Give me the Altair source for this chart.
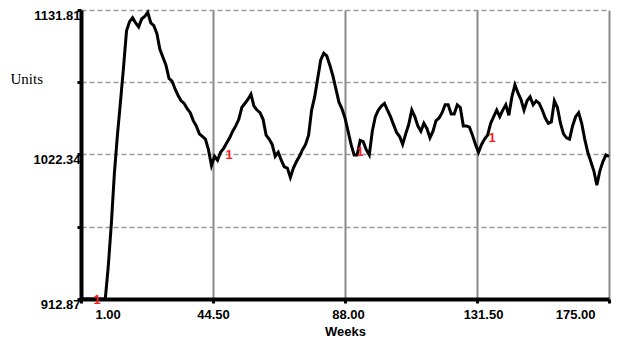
import altair as alt
import pandas as pd

weeks = list(range(1, 176))
units = [
    912.87, 912.87, 912.87, 912.87, 912.87, 912.87, 912.87, 912.87, 912.87, 938,
    970, 1008, 1037, 1062, 1088, 1116, 1123, 1126, 1122, 1119,
    1125, 1127, 1130, 1122, 1120, 1114, 1102, 1096, 1090, 1080,
    1078, 1072, 1067, 1063, 1061, 1057, 1054, 1048, 1044, 1038,
    1036, 1034, 1026, 1014, 1021, 1018, 1024, 1027, 1031, 1035,
    1040, 1044, 1049, 1058, 1061, 1064, 1068, 1059, 1056, 1054,
    1049, 1037, 1034, 1030, 1021, 1024, 1018, 1013, 1012, 1005,
    1012, 1017, 1021, 1026, 1030, 1037, 1056, 1066, 1080, 1094,
    1099, 1097, 1090, 1082, 1072, 1062, 1057, 1050, 1040, 1030,
    1022, 1022, 1033, 1032, 1026, 1022, 1040, 1051, 1056, 1059,
    1061, 1056, 1051, 1045, 1039, 1036, 1030, 1038, 1045, 1056,
    1051, 1044, 1040, 1046, 1042, 1035, 1040, 1048, 1050, 1054,
    1060, 1060, 1053, 1053, 1060, 1058, 1044, 1044, 1043, 1037,
    1030, 1024, 1030, 1034, 1037, 1046, 1051, 1056, 1051, 1056,
    1060, 1052, 1066, 1075, 1069, 1064, 1056, 1063, 1066, 1060,
    1063, 1061, 1056, 1050, 1046, 1047, 1063, 1058, 1046, 1038,
    1035, 1034, 1044, 1051, 1054, 1046, 1034, 1024, 1017, 1010,
    999, 1010, 1017, 1022, 1021,
]

marker_weeks = [6.3, 49.8, 93.0, 136.5]
marker_values = [912.0, 1021.6, 1024.0, 1035.0]
marker_labels = ["1", "1", "1", "1"]

x_ticks = [1.0, 44.5, 88.0, 131.5, 175.0]
y_ticks = [912.87, 967.605, 1022.34, 1077.075, 1131.81]

df = pd.DataFrame({"Week": weeks, "Units": units})
mk = pd.DataFrame({"Week": marker_weeks, "Units": marker_values, "label": marker_labels})

FONT = "Liberation Sans"

x_enc = alt.X(
    "Week:Q",
    scale=alt.Scale(domain=[1, 175], nice=False, zero=False),
    axis=alt.Axis(
        values=x_ticks,
        format=".2f",
        title="Weeks",
        titleFont=FONT,
        titleFontWeight="bold",
        titleFontSize=13,
        titleColor="black",
        titleY=36,
        titleBaseline="alphabetic",
        labelFont=FONT,
        labelFontWeight="bold",
        labelFontSize=13,
        labelColor="black",
        labelPadding=5,
        labelOffset={
            "condition": [
                {"test": "datum.value < 2", "value": 14},
                {"test": "datum.value > 174", "value": -14},
                {"test": "datum.value > 131 && datum.value < 132", "value": 6},
                {"test": "datum.value > 87 && datum.value < 89", "value": 3},
            ],
            "value": 0,
        },
        domainColor="black",
        domainWidth=4,
        tickColor="black",
        tickWidth=3,
        tickSize=4,
        grid=True,
        gridColor="#8a8a8a",
        gridWidth=2,
    ),
)

y_enc = alt.Y(
    "Units:Q",
    scale=alt.Scale(domain=[912.87, 1131.81], nice=False, zero=False),
    axis=alt.Axis(
        values=y_ticks,
        labelExpr="(abs(datum.value-967.605)<0.01 || abs(datum.value-1077.075)<0.01) ? '' : format(datum.value, '.2f')",
        title="Units",
        titleFont="Liberation Serif",
        titleFontWeight="normal",
        titleFontSize=15,
        titleColor="black",
        titleAngle=0,
        titleAlign="left",
        titleBaseline="alphabetic",
        titleX=-71,
        titleY=73,
        labelFont=FONT,
        labelFontWeight="bold",
        labelFontSize=13,
        labelColor="black",
        labelPadding=-3,
        labelBaseline="middle",
        labelOffset=5,
        domainColor="black",
        domainWidth=4,
        tickColor="black",
        tickWidth=3,
        tickSize=4,
        grid=True,
        gridColor="#9a9a9a",
        gridWidth=1.6,
        gridDash=[5, 3],
    ),
)

line = alt.Chart(df).mark_line(color="black", strokeWidth=3).encode(x=x_enc, y=y_enc)

text = alt.Chart(mk).mark_text(
    color="#ff1a1a", font=FONT, fontWeight="bold", fontSize=13, align="center", baseline="middle"
).encode(x="Week:Q", y="Units:Q", text="label:N")

chart = (
    alt.layer(line, text)
    .properties(
        width=528,
        height=289,
        padding={"left": 73, "top": 2, "right": 5, "bottom": 40},
        autosize=alt.AutoSizeParams(type="none"),
    )
    .configure_view(strokeWidth=0)
)

chart.save("out.html", embed_options={"renderer": "svg", "actions": False})
